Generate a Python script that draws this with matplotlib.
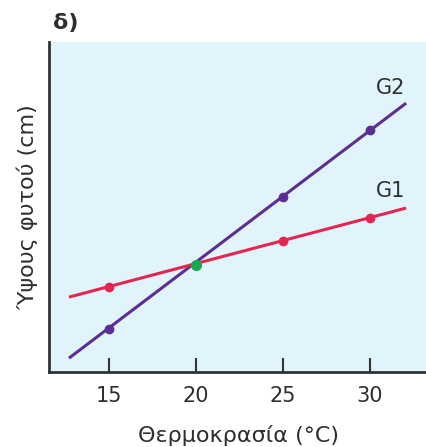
import numpy as np
import matplotlib.pyplot as plt

# measured points
temps = [15, 20, 25, 30]
g1_pts = [2.58, 3.24, 3.97, 4.67]
g2_pts = [1.30, 3.24, 5.30, 7.33]

# line ends (lines run past the points)
line_x = [12.7, 32.1]
g1_line = [2.27, 4.97]
g2_line = [0.42, 8.15]

cross_x = [20]
cross_y = [3.24]

purple = '#5c2e91'
red = '#e32550'
green = '#17a84b'
txt = '#2e2e2e'

fig = plt.figure(figsize=(4.27, 4.47), dpi=100)
ax = fig.add_axes([0.1148, 0.1678, 0.8852, 0.738])
ax.set_facecolor('#e1f4fc')

ax.plot(line_x, g2_line, color=purple, lw=2.2, solid_capstyle='butt')
ax.plot(line_x, g1_line, color=red, lw=2.2, solid_capstyle='butt')
ax.plot(temps[:1] + temps[2:], g2_pts[:1] + g2_pts[2:], 'o', color=purple, ms=6)
ax.plot(temps[:1] + temps[2:], g1_pts[:1] + g1_pts[2:], 'o', color=red, ms=6)
ax.plot(cross_x, cross_y, 'o', color=green, ms=7)

ax.text(31.2, 8.6, 'G2', fontsize=15, color=txt, ha='center', va='center')
ax.text(31.2, 5.5, 'G1', fontsize=15, color=txt, ha='center', va='center')

ax.set_xlim(11.55, 33.3)
ax.set_ylim(0, 10)
ax.set_xticks(temps)
ax.set_yticks([])
ax.tick_params(axis='x', direction='in', length=10, width=1.5, color='#333333',
               labelsize=15, labelcolor=txt, pad=10)
for s in ['top', 'right']:
    ax.spines[s].set_visible(False)
for s in ['left', 'bottom']:
    ax.spines[s].set_linewidth(2)
    ax.spines[s].set_color('#333333')

ax.set_xlabel('Θερμοκρασία (°C)', fontsize=16, color=txt, labelpad=14)
ax.set_ylabel('Ύψους φυτού (cm)', fontsize=16, color=txt, labelpad=8)
fig.text(0.155, 0.949, 'δ)', fontsize=16, fontweight='bold', color=txt,
         ha='center', va='center')

fig.savefig('out.png', dpi=100)
